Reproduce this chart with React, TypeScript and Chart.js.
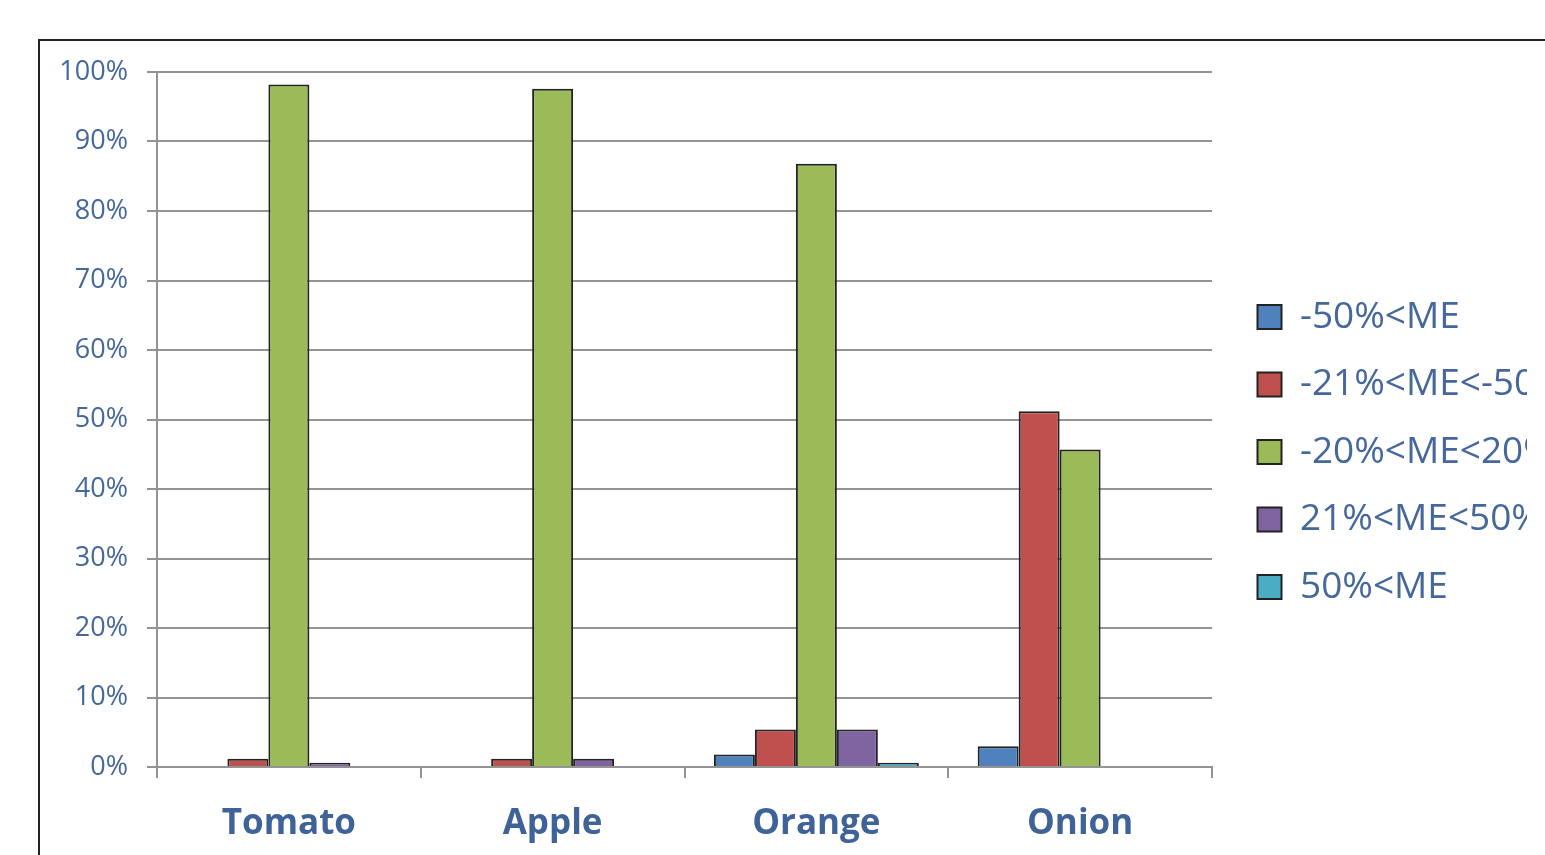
import React, { useEffect, useRef } from 'react';
import { Chart, registerables } from 'chart.js';

Chart.register(...registerables);

const categories = ['Tomato', 'Apple', 'Orange', 'Onion'];
const seriesLabels = ['-50%<ME', '-21%<ME<-50%', '-20%<ME<20%', '21%<ME<50%', '50%<ME'];
const seriesColors = ['#4F81BD', '#C0504D', '#9BBB59', '#8064A2', '#4BACC6'];
const valuesBelow50 = [0, 0, 1.8, 3.0];
const values21to50Neg = [1.2, 1.2, 5.4, 51.2];
const valuesWithin20 = [98.2, 97.6, 86.8, 45.7];
const values21to50 = [0.6, 1.2, 5.4, 0];
const valuesAbove50 = [0, 0, 0.6, 0];
const yMax = 100;
const yStep = 10;

const seriesValues = [valuesBelow50, values21to50Neg, valuesWithin20, values21to50, valuesAbove50];

const FONT = '"Open Sans", "DejaVu Sans", sans-serif';
const GRID = '#939393';
const TEXT = '#44679C';

export default function App() {
  const ref = useRef<HTMLCanvasElement>(null);

  useEffect(() => {
    const canvas = ref.current;
    if (!canvas) return;
    const chart = new Chart(canvas, {
      type: 'bar',
      data: {
        labels: categories,
        datasets: seriesLabels.map((label, i) => ({
          label,
          data: seriesValues[i],
          backgroundColor: seriesColors[i],
          borderColor: '#222222',
          borderWidth: 2,
          borderSkipped: 'start' as const,
          categoryPercentage: 0.777,
          barPercentage: 1.0,
        })),
      },
      options: {
        responsive: false,
        animation: false,
        devicePixelRatio: 1,
        layout: { padding: { top: 16, left: 0, right: 250, bottom: 43 } },
        plugins: {
          tooltip: { enabled: false },
          title: {
            display: true,
            text: ' ',
            fullSize: false,
            padding: 0,
            font: { size: 12.5, lineHeight: 1.2 },
          },
          legend: {
            position: 'right',
            align: 'center',
            maxWidth: 300,
            labels: {
              boxWidth: 24,
              boxHeight: 24,
              padding: 30.5,
              color: TEXT,
              font: { family: FONT, size: 37 },
            },
          },
        },
        scales: {
          x: {
            grid: {
              display: true,
              drawOnChartArea: false,
              drawTicks: true,
              tickLength: 11,
              offset: true,
              color: GRID,
              lineWidth: 2,
            },
            border: { display: true, color: GRID, width: 2 },
            ticks: {
              padding: 25,
              color: '#3F6297',
              font: { family: FONT, size: 35, weight: 'bold' },
            },
            afterFit: (s: any) => {
              s.height = 80;
            },
          },
          y: {
            min: 0,
            max: yMax,
            ticks: {
              stepSize: yStep,
              padding: 19,
              color: TEXT,
              font: { family: FONT, size: 27, lineHeight: 0.8 },
              callback: (v: any) => `${v}%`,
            },
            grid: {
              color: GRID,
              lineWidth: 2,
              drawTicks: true,
              tickLength: 10,
            },
            border: { display: true, color: GRID, width: 2 },
            afterFit: (s: any) => {
              s.width = 117;
            },
          },
          gap: {
            type: 'linear',
            position: 'right',
            display: true,
            grid: { display: false },
            ticks: { display: false },
            border: { display: false },
            afterFit: (s: any) => {
              s.width = 15;
            },
          },
        },
      } as any,
    });
    return () => chart.destroy();
  }, []);

  return (
    <div
      style={{
        position: 'fixed',
        left: 0,
        top: 0,
        width: 1545,
        height: 855,
        overflow: 'hidden',
        background: '#ffffff',
      }}
    >
      <div
        style={{
          position: 'absolute',
          left: 38,
          top: 39,
          width: 1800,
          height: 1000,
          borderLeft: '2px solid #222',
          borderTop: '2px solid #222',
        }}
      >
        <canvas ref={ref} width={1737} height={849} style={{ display: 'block', width: 1737, height: 849 }} />
      </div>
    </div>
  );
}
